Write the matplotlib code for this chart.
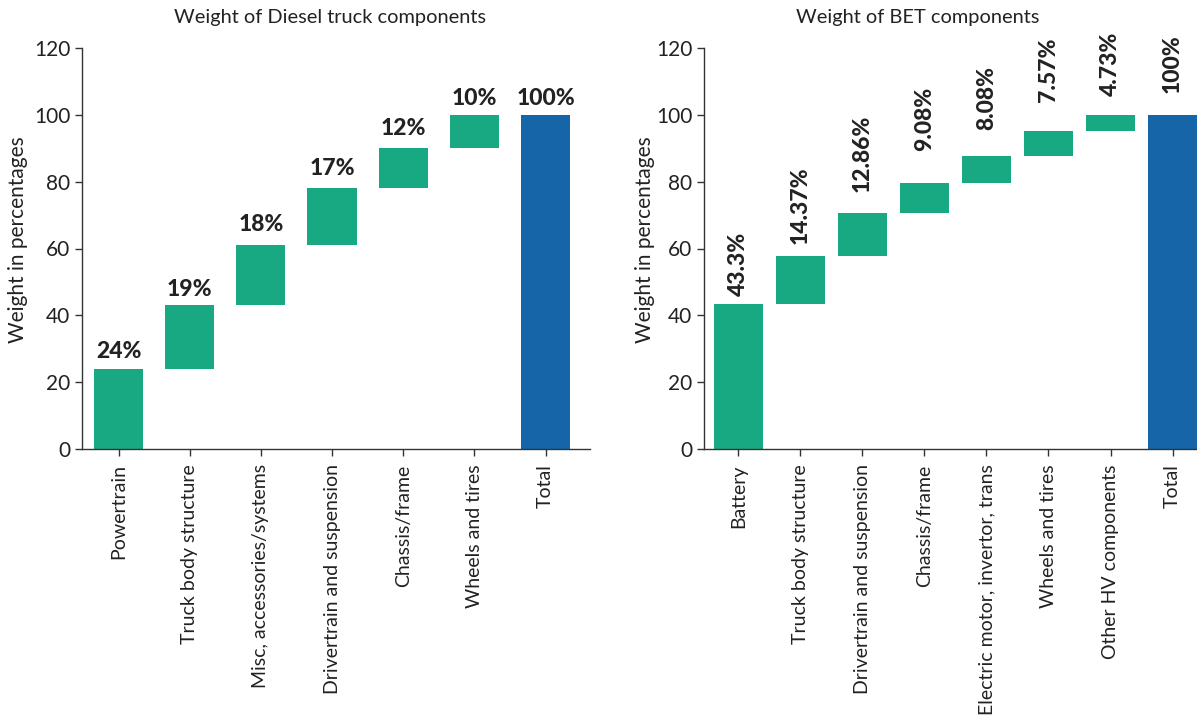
import matplotlib
matplotlib.use("Agg")
import matplotlib.pyplot as plt
import numpy as np

plt.rcParams['font.family'] = ['Lato', 'DejaVu Sans']

# Diesel truck component shares (%)
diesel_categories = ["Powertrain", "Truck body structure", "Misc, accessories/systems",
                     "Drivertrain and suspension", "Chassis/frame", "Wheels and tires", "Total"]
diesel_values = [24, 19, 18, 17, 12, 10]
diesel_total = 100
diesel_labels = ["24%", "19%", "18%", "17%", "12%", "10%", "100%"]

# Battery electric truck component shares (%)
bet_categories = ["Battery", "Truck body structure", "Drivertrain and suspension", "Chassis/frame",
                  "Electric motor, invertor, trans", "Wheels and tires", "Other HV components", "Total"]
bet_values = [43.3, 14.37, 12.86, 9.08, 8.08, 7.57, 4.73]
bet_total = 100
bet_labels = ["43.3%", "14.37%", "12.86%", "9.08%", "8.08%", "7.57%", "4.73%", "100%"]

GREEN = "#19a982"
BLUE = "#1565a8"
INK = "#222222"
W, H = 1197, 726

fig = plt.figure(figsize=(W / 100, H / 100), dpi=100)


def px_axes(x0, x1, y0, y1):
    return fig.add_axes([x0 / W, 1 - y1 / H, (x1 - x0) / W, (y1 - y0) / H])


def waterfall(ax, cats, vals, total, labels, width, xlim, rotate, pads):
    vals = np.asarray(vals, dtype=float)
    bottoms = np.concatenate([[0], np.cumsum(vals)[:-1]])
    x = np.arange(len(cats))
    ax.bar(x[:-1], vals, bottom=bottoms, width=width, color=GREEN, zorder=2)
    ax.bar(x[-1], total, width=width, color=BLUE, zorder=2, clip_on=False)
    tops = list(bottoms + vals) + [total]
    for xi, top, lab, pad in zip(x, tops, labels, pads):
        ax.annotate(lab, (xi, top), xytext=(0, pad), textcoords="offset points",
                    ha="center", va="bottom", rotation=90 if rotate else 0,
                    fontsize=16.5, fontweight="black", color=INK,
                    annotation_clip=False)
    ax.set_xlim(*xlim)
    ax.set_ylim(0, 120)
    ax.set_yticks(range(0, 121, 20))
    ax.set_xticks(x)
    ax.set_xticklabels(cats, rotation=90, fontsize=14, color=INK)
    ax.tick_params(axis="y", labelsize=15, labelcolor=INK, length=5, width=1, color="#333333")
    ax.tick_params(axis="x", length=5, width=1, color="#333333", pad=6)
    for s in ("top", "right"):
        ax.spines[s].set_visible(False)
    for s in ("left", "bottom"):
        ax.spines[s].set_color("#333333")
        ax.spines[s].set_linewidth(1)


ax1 = px_axes(82, 590, 48, 449)
waterfall(ax1, diesel_categories, diesel_values, diesel_total, diesel_labels,
          0.69, (-0.513, 6.625), rotate=False,
          pads=[5, 4, 7, 7, 7, 4, 4])

ax2 = px_axes(704, 1197, 48, 449)
waterfall(ax2, bet_categories, bet_values, bet_total, bet_labels,
          0.79, (-0.556, 7.395), rotate=True,
          pads=[6, 8.5, 15, 23, 19, 21, 13.5, 16])

fig.text(330 / W, 1 - 18 / H, "Weight of Diesel truck components", ha="center", va="center",
         fontsize=14.4, color=INK)
fig.text(918 / W, 1 - 18 / H, "Weight of BET components", ha="center", va="center",
         fontsize=14.4, color=INK)
fig.text(18 / W, 1 - 240 / H, "Weight in percentages", ha="center", va="center",
         rotation=90, fontsize=15, color=INK)
fig.text(645 / W, 1 - 240 / H, "Weight in percentages", ha="center", va="center",
         rotation=90, fontsize=15, color=INK)

fig.savefig("out.png", dpi=100)
